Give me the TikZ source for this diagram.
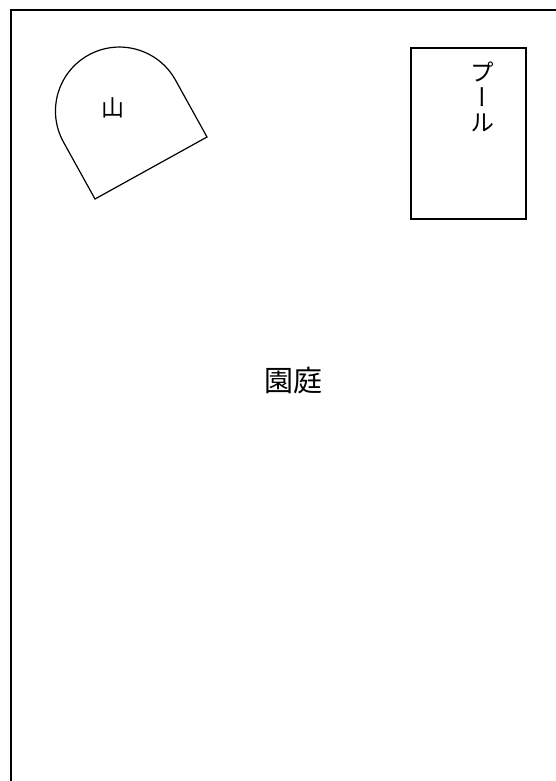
\documentclass[tikz,border=0pt]{standalone}
\usepackage{fontspec}
\newfontfamily\jpfont{Noto Sans CJK JP}
\newfontfamily\jpvert[RawFeature=+vert]{Noto Sans CJK JP}
\tikzset{
    planline/.style={draw,line width=1.6pt},
    jptext/.style={font=\jpfont\fontsize{#1}{#1}\selectfont}
}

\begin{document}
\begin{tikzpicture}[x=1pt,y=-1pt]
        \useasboundingbox (0,0) rectangle (556,781);
        \clip (0,0) rectangle (556,781);
        \fill[white] (0,0) rectangle (556,781);
        \draw[planline] (11,10) rectangle (600,820);

        \node[jptext=29] (garden) at (293,381) {園庭};

        \coordinate (mtbl) at (95,199);
        \coordinate (mtbr) at (207,137);
        \draw[line width=1.2pt] (mtbl) -- (63.5,142.1) arc[start angle=151,end angle=331,radius=64] -- (mtbr) -- cycle;
        \node[jptext=23] (mountain) at (113,108) {山};

        \node[planline,minimum width=115pt,minimum height=171pt,inner sep=0pt] (pool) at (468.5,133.5) {};
        \node[font=\jpvert\fontsize{24}{25}\selectfont,align=center,inner sep=0pt] (pooltext) at (482,97) {プ\\ー\\ル};
    \end{tikzpicture}
\end{document}
